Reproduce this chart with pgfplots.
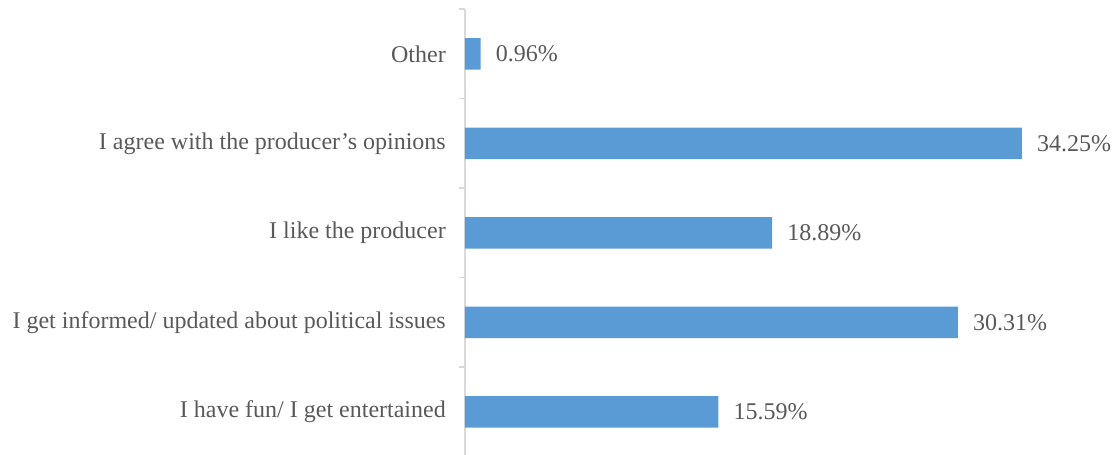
\documentclass[border=0pt]{standalone}
\usepackage{pgfplots}
\pgfplotsset{compat=1.18}
\usepackage{fontspec}
\setmainfont{Liberation Serif}
\definecolor{barblue}{HTML}{5B9BD5}
\definecolor{axgray}{HTML}{D9D9D9}
\definecolor{txtgray}{HTML}{595959}
\begin{document}
\begin{tikzpicture}
\begin{axis}[
  at={(0pt,0pt)}, anchor=south west,
  scale only axis,
  width=650.4pt, height=447.5pt,
  xmin=0, xmax=40,
  ymin=-0.5, ymax=4.5,
  xbar, bar width=31.5pt,
  axis x line=none,
  axis y line*=left,
  y axis line style={color=axgray, line width=1.5pt},
  ytick={0,1,2,3,4},
  yticklabels={I have fun/ I get entertained, I get informed/ updated about political issues, I like the producer, I agree with the producer’s opinions, Other},
  major tick length=0pt,
  minor ytick={-0.5,0.5,1.5,2.5,3.5,4.5},
  minor tick length=6pt,
  tick align=outside,
  tick style={color=axgray, line width=1.5pt},
  yticklabel style={anchor=east, inner sep=0pt, xshift=-19pt, font=\fontsize{24}{29}\selectfont, text=txtgray},
  point meta=explicit symbolic,
  nodes near coords,
  nodes near coords style={anchor=west, inner sep=0pt, xshift=15pt, font=\fontsize{24}{29}\selectfont, text=txtgray},
  clip=false,
]
\addplot[fill=barblue, draw=none] coordinates {
  (15.59,0) [15.59\%]
  (30.31,1) [30.31\%]
  (18.89,2) [18.89\%]
  (34.25,3) [34.25\%]
  (0.96,4) [0.96\%]
};
\end{axis}
\pgfresetboundingbox
\path[use as bounding box] (-465pt,1.75pt) rectangle (652pt,456.75pt);
\end{tikzpicture}
\end{document}
